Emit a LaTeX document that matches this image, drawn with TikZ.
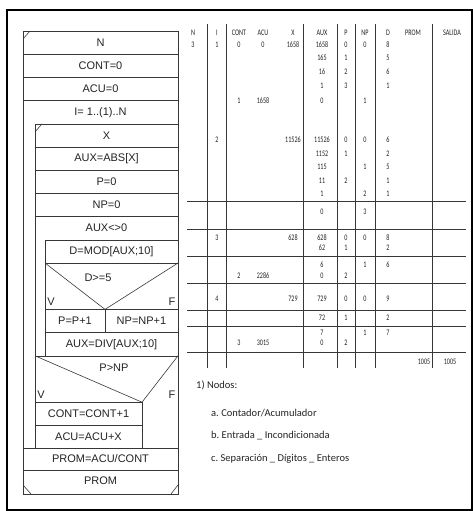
\documentclass[tikz,border=0pt]{standalone}
\usepackage{fontspec}
\setmainfont{Liberation Sans}
\newfontfamily\tabfont[FakeStretch=0.72]{Carlito}
\newfontfamily\notefont{Carlito}
\usetikzlibrary{positioning}
\definecolor{lineC}{RGB}{55, 55, 55}
\definecolor{textC}{RGB}{35, 35, 35}

\begin{document}
\begin{tikzpicture}[
    x=1pt, y=-1pt,
    nsd/.style={draw=lineC, line width=0.6pt},
    grid/.style={draw=lineC, line width=0.7pt},
    cell/.style={font=\fontsize{11}{12}\selectfont, text=textC, inner sep=0pt},
    tab/.style={font=\tabfont\fontsize{8.5}{9}\selectfont, text=textC, inner sep=0pt},
    note/.style={font=\notefont\fontsize{10.5}{12}\selectfont, text=textC, anchor=west, inner sep=0pt}
  ]
    \useasboundingbox (0,0) rectangle (473,511);
    \draw[line width=2pt] (6.5,10.5) rectangle (471.5,510);

    % Chart frame and rows
    \draw[nsd] (23,31) rectangle (178,494);
    \draw[nsd] (23,54.2) -- (178,54.2);
    \draw[nsd] (23,77.4) -- (178,77.4);
    \draw[nsd] (23,100.6) -- (178,100.6);
    \draw[nsd] (35,448.6) -- (35,123.8) -- (178,123.8);
    \draw[nsd] (35,147) -- (178,147);
    \draw[nsd] (35,170.2) -- (178,170.2);
    \draw[nsd] (35,193.4) -- (178,193.4);
    \draw[nsd] (35,216.6) -- (178,216.6);
    \draw[nsd] (45,355.8) -- (45,239.8) -- (178,239.8);
    \draw[nsd] (45,263) -- (178,263);
    \draw[nsd] (45,263) -- (105,309.4) -- (178,263);
    \draw[nsd] (45,309.4) -- (178,309.4);
    \draw[nsd] (105,309.4) -- (105,332.6);
    \draw[nsd] (45,332.6) -- (178,332.6);
    \draw[nsd] (35,355.8) -- (178,355.8);
    \draw[nsd] (35,355.8) -- (142,402.2) -- (178,355.8);
    \draw[nsd] (35,402.2) -- (142,402.2) -- (142,448.6);
    \draw[nsd] (35,425.4) -- (142,425.4);
    \draw[nsd] (23,448.6) -- (178,448.6);
    \draw[nsd] (23,470.6) -- (178,470.6);

    % Input / output marks
    \draw[nsd] (23,39) -- (30,31);
    \draw[nsd] (35,132) -- (42,123.8);
    \draw[nsd] (23,485) -- (31,494);
    \draw[nsd] (171,494) -- (178,485);

    % Chart texts
    \node[cell] (readN) at (100.5,42.6) {N};
    \node[cell] (cont0) at (100.5,65.8) {CONT=0};
    \node[cell] (acu0) at (100.5,89) {ACU=0};
    \node[cell] (loopI) at (100.5,112.2) {I= 1..(1)..N};
    \node[cell] (readX) at (106.5,135.4) {X};
    \node[cell] (absX) at (106.5,158.6) {AUX=ABS[X]};
    \node[cell] (p0) at (106.5,181.8) {P=0};
    \node[cell] (np0) at (106.5,205) {NP=0};
    \node[cell] (loopAux) at (106.5,228.2) {AUX<>0};
    \node[cell] (modD) at (111.5,251.4) {D=MOD[AUX;10]};
    \node[cell] (testD) at (98,278) {D>=5};
    \node[cell] (vD) at (51,302) {V};
    \node[cell] (fD) at (172,302) {F};
    \node[cell] (incP) at (75,321) {P=P+1};
    \node[cell] (incNP) at (141.5,321) {NP=NP+1};
    \node[cell] (divAux) at (111.5,344.2) {AUX=DIV[AUX;10]};
    \node[cell] (testP) at (114,368) {P>NP};
    \node[cell] (vP) at (41,395) {V};
    \node[cell] (fP) at (172,395) {F};
    \node[cell] (incCont) at (88.5,414) {CONT=CONT+1};
    \node[cell] (incAcu) at (88.5,437) {ACU=ACU+X};
    \node[cell] (calcProm) at (100.5,459) {PROM=ACU/CONT};
    \node[cell] (outProm) at (100.5,481) {PROM};

    % Trace table grid
    \foreach \gx in {207,226,303,337,355,375,432}
      \draw[grid] (\gx,24) -- (\gx,368);
    \foreach \gy in {201,229,256,283,310,326,352}
      \draw[grid] (187,\gy) -- (466,\gy);

    % Trace table heads
    \foreach \hx/\hlab [count=\k] in {193/N, 217/I, 239/CONT, 263/ACU, 293/X, 322/AUX,
        346/P, 365/NP, 388/D, 413/PROM, 452/SALIDA}
      \node[tab] (head\k) at (\hx,33) {\hlab};

    % Trace table values
    \foreach \vx/\vy/\vlab [count=\k] in {
        193/45/3, 217/45/1, 239/45/0, 263/45/0, 293/45/1658, 322/45/1658, 346/45/0, 365/45/0, 388/45/8,
        322/58/165, 346/58/1, 388/58/5,
        322/72/16, 346/72/2, 388/72/6,
        322/86/1, 346/86/3, 388/86/1,
        239/101/1, 263/101/1658, 322/101/0, 365/101/1,
        217/140/2, 293/140/11526, 322/140/11526, 346/140/0, 365/140/0, 388/140/6,
        322/154/1152, 346/154/1, 388/154/2,
        322/167/115, 365/167/1, 388/167/5,
        322/181/11, 346/181/2, 388/181/1,
        322/194/1, 365/194/2, 388/194/1,
        322/212/0, 365/212/3,
        217/238/3, 293/238/628, 322/238/628, 346/238/0, 365/238/0, 388/238/8,
        322/248/62, 346/248/1, 388/248/2,
        322/265/6, 365/265/1, 388/265/6,
        239/276/2, 263/276/2286, 322/276/0, 346/276/2,
        217/299/4, 293/299/729, 322/299/729, 346/299/0, 365/299/0, 388/299/9,
        322/318/72, 346/318/1, 388/318/2,
        322/333/7, 365/333/1, 388/333/7,
        239/343/3, 263/343/3015, 322/343/0, 346/343/2,
        424/362/1005, 450/362/1005}
      \node[tab] (val\k) at (\vx,\vy) {\vlab};

    % Notes
    \node[note] (nodos) at (196,385) {1) Nodos:};
    \node[note] (noteA) at (211,413) {a.\ Contador/Acumulador};
    \node[note, below=23pt of noteA.west, anchor=west] (noteB) {b.\ Entrada \_ Incondicionada};
    \node[note, below=23pt of noteB.west, anchor=west] (noteC) {c.\ Separación \_ Dígitos \_ Enteros};
  \end{tikzpicture}
\end{document}
